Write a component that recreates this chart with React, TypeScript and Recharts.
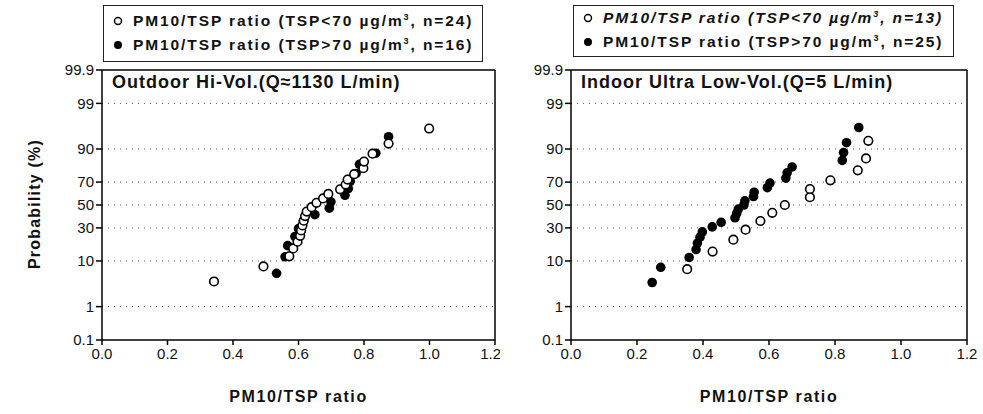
import { Label, ReferenceLine, Scatter, ScatterChart, XAxis, YAxis } from "recharts";

// probability axis (normal probability paper)
const probTicks = [0.1, 1, 10, 30, 50, 70, 90, 99, 99.9];
const probTickLabels = ["0.1", "1", "10", "30", "50", "70", "90", "99", "99.9"];
const gridProbs = [1, 10, 30, 50, 70, 90, 99];
const ratioTicks = [0, 0.2, 0.4, 0.6, 0.8, 1.0, 1.2];

// Outdoor Hi-Vol, TSP < 70 (n=24)
const outdoorLowRatio = [0.342, 0.493, 0.572, 0.584, 0.597, 0.605, 0.608, 0.612, 0.616, 0.62, 0.625, 0.64, 0.655, 0.675, 0.691, 0.727, 0.744, 0.75, 0.77, 0.798, 0.8, 0.826, 0.875, 0.999];
const outdoorLowProb = [4, 8, 12, 16, 20, 24, 28, 32, 36, 40, 44, 48, 52, 56, 60, 64, 68, 72, 76, 80, 84, 88, 92, 96];

// Outdoor Hi-Vol, TSP > 70 (n=16)
const outdoorHighRatio = [0.533, 0.559, 0.567, 0.589, 0.6, 0.615, 0.65, 0.694, 0.699, 0.742, 0.752, 0.758, 0.776, 0.786, 0.836, 0.875];
const outdoorHighProb = [5.9, 11.8, 17.6, 23.5, 29.4, 35.3, 41.2, 47.1, 52.9, 58.8, 64.7, 70.6, 76.5, 82.4, 88.2, 94.1];

// Indoor ultra low-vol, TSP < 70 (n=13)
const indoorLowRatio = [0.352, 0.429, 0.492, 0.529, 0.574, 0.61, 0.648, 0.724, 0.724, 0.786, 0.869, 0.894, 0.901];
const indoorLowProb = [7.1, 14.3, 21.4, 28.6, 35.7, 42.9, 50.0, 57.1, 64.3, 71.4, 78.6, 85.7, 92.9];

// Indoor ultra low-vol, TSP > 70 (n=25)
const indoorHighRatio = [0.246, 0.272, 0.358, 0.379, 0.383, 0.391, 0.398, 0.428, 0.455, 0.497, 0.502, 0.507, 0.524, 0.527, 0.553, 0.555, 0.595, 0.603, 0.651, 0.655, 0.67, 0.822, 0.826, 0.835, 0.872];
const indoorHighProb = [3.8, 7.7, 11.5, 15.4, 19.2, 23.1, 26.9, 30.8, 34.6, 38.5, 42.3, 46.2, 50.0, 53.8, 57.7, 61.5, 65.4, 69.2, 73.1, 76.9, 80.8, 84.6, 88.5, 92.3, 96.2];

// inverse normal CDF (Acklam)
function probit(p: number) {
  const a = [-39.69683028665376, 220.9460984245205, -275.9285104469687, 138.357751867269, -30.66479806614716, 2.506628277459239];
  const b = [-54.47609879822406, 161.5858368580409, -155.6989798598866, 66.80131188771972, -13.28068155288572];
  const c = [-0.007784894002430293, -0.3223964580411365, -2.400758277161838, -2.549671324989409, 4.374664141464968, 2.938163982698783];
  const d = [0.007784695709041462, 0.3224671290700398, 2.445134137142996, 3.754408661907416];
  const plow = 0.02425;
  if (p < plow) {
    const q = Math.sqrt(-2 * Math.log(p));
    return (((((c[0] * q + c[1]) * q + c[2]) * q + c[3]) * q + c[4]) * q + c[5]) / ((((d[0] * q + d[1]) * q + d[2]) * q + d[3]) * q + 1);
  }
  if (p > 1 - plow) {
    const q = Math.sqrt(-2 * Math.log(1 - p));
    return -(((((c[0] * q + c[1]) * q + c[2]) * q + c[3]) * q + c[4]) * q + c[5]) / ((((d[0] * q + d[1]) * q + d[2]) * q + d[3]) * q + 1);
  }
  const q = p - 0.5;
  const r = q * q;
  return ((((((a[0] * r + a[1]) * r + a[2]) * r + a[3]) * r + a[4]) * r + a[5]) * q) / (((((b[0] * r + b[1]) * r + b[2]) * r + b[3]) * r + b[4]) * r + 1);
}

const zTicks = probTicks.map((p) => probit(p / 100));
const zMin = zTicks[0];
const zMax = zTicks[zTicks.length - 1];

const toPoints = (ratio: number[], prob: number[]) => ratio.map((x, i) => ({ x, y: probit(prob[i] / 100) }));

const formatProb = (v: number) => {
  let best = 0;
  zTicks.forEach((z, i) => {
    if (Math.abs(z - v) < Math.abs(zTicks[best] - v)) best = i;
  });
  return probTickLabels[best];
};

const openDot = (props: any) => <circle cx={props.cx} cy={props.cy} r={4.3} fill="#fff" stroke="#000" strokeWidth={1.6} />;
const fullDot = (props: any) => <circle cx={props.cx} cy={props.cy} r={4.8} fill="#000" />;

const tickStyle = { fontSize: 15, fill: "#111" };

interface PanelProps {
  left: number;
  marginLeft: number;
  marginRight: number;
  low: { x: number; y: number }[];
  high: { x: number; y: number }[];
}

function Panel({ left, marginLeft, marginRight, low, high }: PanelProps) {
  return (
    <div style={{ position: "absolute", left, top: 0 }}>
      <ScatterChart width={500} height={414} margin={{ top: 70, right: marginRight, bottom: 44, left: marginLeft }}>
        <XAxis
          type="number"
          dataKey="x"
          domain={[0, 1.2]}
          ticks={ratioTicks}
          tickFormatter={(v: number) => v.toFixed(1)}
          tick={tickStyle}
          tickSize={5}
          tickMargin={3}
          height={30}
          stroke="#000"
          strokeWidth={1.5}
        >
          <Label value="PM10/TSP ratio" position="bottom" offset={21} style={{ fontSize: 16, fontWeight: "bold", fill: "#111", letterSpacing: 1.6 }} />
        </XAxis>
        <YAxis
          type="number"
          dataKey="y"
          domain={[zMin, zMax]}
          ticks={zTicks}
          tickFormatter={formatProb}
          tick={tickStyle}
          tickSize={6}
          width={60}
          stroke="#000"
          strokeWidth={1.5}
          allowDataOverflow
        />
        {gridProbs.map((p) => (
          <ReferenceLine key={p} y={probit(p / 100)} stroke="#555" strokeDasharray="1 5" />
        ))}
        <ReferenceLine y={zMax} stroke="#000" strokeWidth={1.5} />
        <ReferenceLine x={1.2} stroke="#000" strokeWidth={1.5} />
        <Scatter data={high} shape={fullDot} isAnimationActive={false} />
        <Scatter data={low} shape={openDot} isAnimationActive={false} />
      </ScatterChart>
    </div>
  );
}

function LegendBox({ left, width, height, italic, lowText, highText }: { left: number; width: number; height: number; italic: boolean; lowText: string; highText: string }) {
  const row = (open: boolean, text: string, top: number, ital: boolean) => (
    <div style={{ position: "absolute", left: 0, top, display: "flex", alignItems: "center" }}>
      <svg width={22} height={14} style={{ marginLeft: 7 }}>
        {open ? <circle cx={7} cy={7} r={3.5} fill="#fff" stroke="#000" strokeWidth={1.4} /> : <circle cx={7} cy={7} r={4} fill="#000" />}
      </svg>
      <span style={{ fontSize: 15.5, fontWeight: "bold", letterSpacing: 1.9, fontStyle: ital ? "italic" : "normal", whiteSpace: "nowrap" }}>
        {text}
        <span> (TSP{open ? "<" : ">"}70 µg/m</span>
        <sup style={{ fontSize: 9 }}>3</sup>
        <span>, n={open ? lowText : highText})</span>
      </span>
    </div>
  );
  return (
    <div style={{ position: "absolute", left, top: 5, width, height, border: "1.2px solid #222", boxSizing: "border-box" }}>
      {row(true, "PM10/TSP ratio", height / 2 - 23, italic)}
      {row(false, "PM10/TSP ratio", height / 2 + 1, false)}
    </div>
  );
}

export default function App() {
  return (
    <div style={{ position: "absolute", left: 0, top: 0, width: 983, height: 414, background: "#fff", fontFamily: "'Liberation Sans', Arial, sans-serif", color: "#111" }}>
      <Panel left={0} marginLeft={42} marginRight={5} low={toPoints(outdoorLowRatio, outdoorLowProb)} high={toPoints(outdoorHighRatio, outdoorHighProb)} />
      <Panel left={480} marginLeft={31} marginRight={13} low={toPoints(indoorLowRatio, indoorLowProb)} high={toPoints(indoorHighRatio, indoorHighProb)} />
      <LegendBox left={103} width={380} height={57} italic={false} lowText="24" highText="16" />
      <LegendBox left={573} width={381} height={52} italic={true} lowText="13" highText="25" />
      <div style={{ position: "absolute", left: 112, top: 72, fontSize: 18, fontWeight: "bold", letterSpacing: 1, whiteSpace: "nowrap" }}>Outdoor Hi-Vol.(Q≈1130 L/min)</div>
      <div style={{ position: "absolute", left: 581, top: 72, fontSize: 18, fontWeight: "bold", letterSpacing: 1, whiteSpace: "nowrap" }}>Indoor Ultra Low-Vol.(Q=5 L/min)</div>
      <div style={{ position: "absolute", left: 35, top: 204, transform: "translate(-50%, -50%) rotate(-90deg)", fontSize: 16, fontWeight: "bold", letterSpacing: 1.2, whiteSpace: "nowrap" }}>Probability (%)</div>
    </div>
  );
}
